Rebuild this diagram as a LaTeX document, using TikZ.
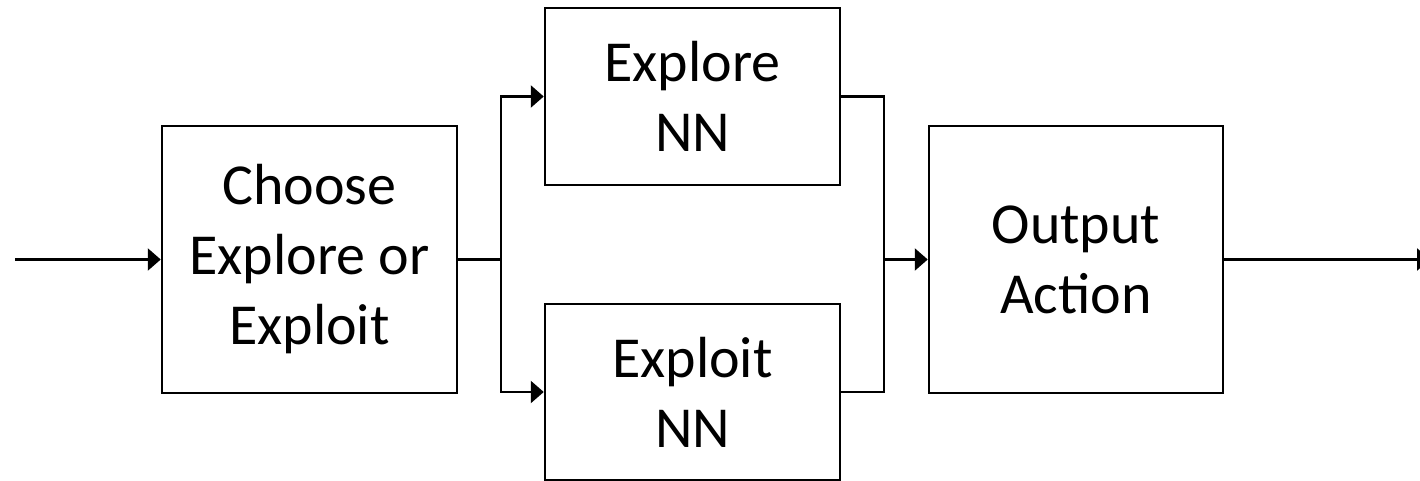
\documentclass[tikz,border=0pt]{standalone}
\usepackage{fontspec}
\setmainfont{Carlito}
\usetikzlibrary{arrows.meta}
\begin{document}
\begin{tikzpicture}[x=1pt,y=-1pt,
  blk/.style={draw=black,line width=2.5pt,align=center,inner sep=0pt,
    font=\fontsize{58}{70}\selectfont},
  conn/.style={line width=2.5pt,black},
  arr/.style={conn,-{Triangle[length=13pt,width=22pt]}}]
\useasboundingbox (0,0) rectangle (1420,481);
\node[blk,minimum width=295pt,minimum height=267pt] (choose) at (309.5,259.5) {Choose\\Explore or\\Exploit};
\node[blk,minimum width=295pt,minimum height=177pt] (explore) at (692.5,96.5) {Explore\\NN};
\node[blk,minimum width=295pt,minimum height=176pt] (exploit) at (692.5,392) {Exploit\\NN};
\node[blk,minimum width=294pt,minimum height=267pt] (output) at (1076,259.5) {Output\\Action};
\coordinate (in) at (15,259.5);
\coordinate (split) at (501,259.5);
\coordinate (merge) at (884,259.5);
\coordinate (out) at (1430,259.5);
\draw[arr] (in) -- (choose.west);
\draw[conn] (choose.east) -- (split);
\draw[arr] (split) |- (explore.west);
\draw[arr] (split) |- (exploit.west);
\draw[conn] (explore.east) -| (merge);
\draw[conn] (exploit.east) -| (merge);
\draw[arr] (merge) -- (output.west);
\draw[arr] (output.east) -- (out);
\end{tikzpicture}
\end{document}
